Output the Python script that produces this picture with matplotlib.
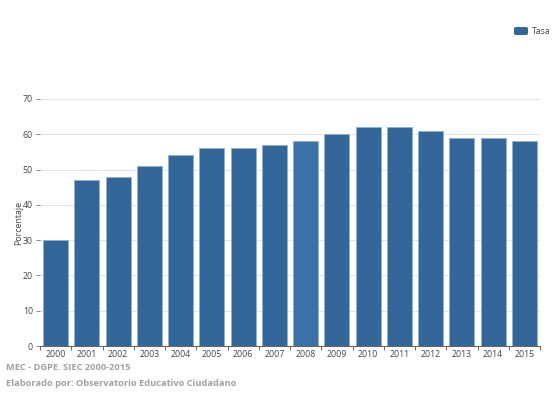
import matplotlib
matplotlib.use("Agg")
import matplotlib.pyplot as plt
from matplotlib.patches import FancyBboxPatch

years = ["2000", "2001", "2002", "2003", "2004", "2005", "2006", "2007",
         "2008", "2009", "2010", "2011", "2012", "2013", "2014", "2015"]
tasa = [30, 47, 48, 51, 54, 56, 56, 57, 58, 60, 62, 62, 61, 59, 59, 58]
yticks = [0, 10, 20, 30, 40, 50, 60, 70]

plt.rcParams['font.family'] = ['Open Sans', 'DejaVu Sans']

W, H = 557, 399
fig = plt.figure(figsize=(W / 100, H / 100), dpi=100)
ax = fig.add_axes([40 / W, 1 - 346 / H, 500 / W, (346 - 99) / H])

base = "#336699"
hi = "#3a72a8"
colors = [hi if y == "2008" else base for y in years]
x = list(range(len(years)))
ax.bar(x, tasa, width=0.8, color=colors, edgecolor="#8fb0cf", linewidth=0.6, zorder=3)

ax.set_xlim(-0.5, len(years) - 0.5)
ax.set_ylim(0, 70)
ax.set_yticks(yticks)
ax.set_yticklabels([str(v) for v in yticks], fontsize=6.3, color="#444444")
ax.set_xticks(x)
ax.set_xticklabels(years, fontsize=6.3, color="#444444")
ax.tick_params(axis="x", length=0, pad=3)
ax.set_xticks([i - 0.5 for i in range(len(years) + 1)], minor=True)
ax.tick_params(axis="x", which="minor", length=3, color="#666666", width=0.7)
ax.tick_params(axis="y", length=3, color="#888888", width=0.7, pad=2)
ax.grid(axis="y", color="#e3e3e3", linewidth=0.8, zorder=0)
for s in ["top", "right", "left"]:
    ax.spines[s].set_visible(False)
ax.spines["bottom"].set_color("#666666")
ax.spines["bottom"].set_linewidth(0.8)
ax.set_ylabel("Porcentaje", fontsize=6.3, color="#444444")
ax.yaxis.set_label_coords(-17 / 500, 0.5)

# legend
lx0, ly0 = 514 / W, 1 - 35 / H
fig.patches.append(FancyBboxPatch((lx0, ly0), 14 / W, 8 / H,
                                  boxstyle="round,pad=0,rounding_size=0.004",
                                  transform=fig.transFigure, facecolor=base,
                                  edgecolor="none"))
fig.text(532 / W, 1 - 31 / H, "Tasa", fontsize=6.3, color="#444444", va="center")

fig.text(6 / W, 1 - 367 / H, "MEC - DGPE. SIEC 2000-2015", fontsize=6.7,
         color="#a0a0a0", fontweight="bold", va="center")
fig.text(6 / W, 1 - 383 / H, "Elaborado por: Observatorio Educativo Ciudadano",
         fontsize=6.7, color="#a0a0a0", fontweight="bold", va="center")

fig.savefig("out.png", dpi=100)
